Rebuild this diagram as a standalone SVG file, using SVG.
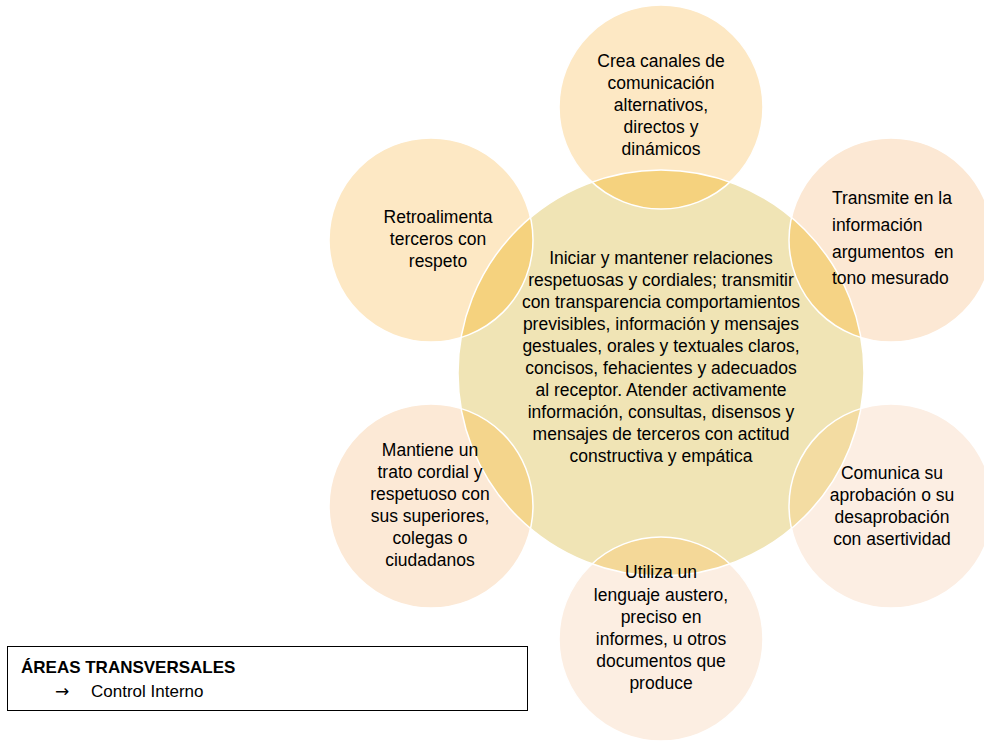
<svg xmlns="http://www.w3.org/2000/svg" width="984" height="742" viewBox="0 0 984 742">
<style>
.t{font-family:"Liberation Sans",Arial,sans-serif;font-size:17.5px;fill:#000;text-anchor:middle}
.l{text-anchor:start}
.o{fill:none;stroke:#fff;stroke-width:1.5}
.lg{font-family:"Liberation Sans",Arial,sans-serif;font-size:17px;fill:#000}
</style>
<defs>
<clipPath id="cc"><circle cx="661" cy="373" r="203"/></clipPath>
</defs>
<rect width="984" height="742" fill="#fff"/>
<g id="center">
<circle cx="661" cy="373" r="203" fill="#F0E4B5"/>
</g>
<g id="n-top"><circle cx="661" cy="107" r="102" fill="#FDE8C4"/><circle cx="661" cy="107" r="102" fill="#F5D27E" clip-path="url(#cc)"/></g>
<g id="n-righttop"><circle cx="891" cy="240" r="102" fill="#FCE8D4"/><circle cx="891" cy="240" r="102" fill="#F5D385" clip-path="url(#cc)"/></g>
<g id="n-rightbottom"><circle cx="891" cy="506" r="102" fill="#FCEEE3"/><circle cx="891" cy="506" r="102" fill="#F3DCA2" clip-path="url(#cc)"/></g>
<g id="n-bottom"><circle cx="661" cy="639" r="102" fill="#FCEEE2"/><circle cx="661" cy="639" r="102" fill="#F4D898" clip-path="url(#cc)"/></g>
<g id="n-leftbottom"><circle cx="431" cy="506" r="102" fill="#FCE9D6"/><circle cx="431" cy="506" r="102" fill="#F4D58C" clip-path="url(#cc)"/></g>
<g id="n-lefttop"><circle cx="431" cy="240" r="102" fill="#FDE8C4"/><circle cx="431" cy="240" r="102" fill="#F5D27E" clip-path="url(#cc)"/></g>
<g id="outlines">
<circle class="o" cx="661" cy="373" r="203"/>
<circle class="o" cx="661" cy="107" r="102"/>
<circle class="o" cx="891" cy="240" r="102"/>
<circle class="o" cx="891" cy="506" r="102"/>
<circle class="o" cx="661" cy="639" r="102"/>
<circle class="o" cx="431" cy="506" r="102"/>
<circle class="o" cx="431" cy="240" r="102"/>
</g>
<g id="texts">
<text class="t" x="661" y="264">Iniciar y mantener relaciones</text>
<text class="t" x="661" y="286">respetuosas y cordiales; transmitir</text>
<text class="t" x="661" y="308">con transparencia comportamientos</text>
<text class="t" x="661" y="330">previsibles, información y mensajes</text>
<text class="t" x="661" y="352">gestuales, orales y textuales claros,</text>
<text class="t" x="661" y="374">concisos, fehacientes y adecuados</text>
<text class="t" x="661" y="396">al receptor. Atender activamente</text>
<text class="t" x="661" y="418">información, consultas, disensos y</text>
<text class="t" x="661" y="440">mensajes de terceros con actitud</text>
<text class="t" x="661" y="462">constructiva y empática</text>

<text class="t" x="661" y="67">Crea canales de</text>
<text class="t" x="661" y="89">comunicación</text>
<text class="t" x="661" y="111">alternativos,</text>
<text class="t" x="661" y="133">directos y</text>
<text class="t" x="661" y="155">dinámicos</text>

<text class="t l" x="832" y="204">Transmite en la</text>
<text class="t l" x="832" y="231">información</text>
<text class="t l" x="832" y="258" xml:space="preserve">argumentos  en</text>
<text class="t l" x="832" y="284">tono mesurado</text>

<text class="t" x="892" y="479">Comunica su</text>
<text class="t" x="892" y="501">aprobación o su</text>
<text class="t" x="892" y="523">desaprobación</text>
<text class="t" x="892" y="545">con asertividad</text>

<text class="t" x="661" y="578">Utiliza un</text>
<text class="t" x="661" y="601">lenguaje austero,</text>
<text class="t" x="661" y="623">preciso en</text>
<text class="t" x="661" y="645">informes, u otros</text>
<text class="t" x="661" y="667">documentos que</text>
<text class="t" x="661" y="689">produce</text>

<text class="t" x="430" y="456">Mantiene un</text>
<text class="t" x="430" y="478">trato cordial y</text>
<text class="t" x="430" y="500">respetuoso con</text>
<text class="t" x="430" y="522">sus superiores,</text>
<text class="t" x="430" y="544">colegas o</text>
<text class="t" x="430" y="566">ciudadanos</text>

<text class="t" x="438" y="223">Retroalimenta</text>
<text class="t" x="438" y="245">terceros con</text>
<text class="t" x="438" y="267">respeto</text>
</g>
<g id="legend">
<rect x="7.5" y="646.5" width="520" height="64" fill="#fff" stroke="#000" stroke-width="1"/>
<text class="lg" x="21" y="673" font-weight="bold" font-size="17.5">ÁREAS TRANSVERSALES</text>
<text x="55" y="697" font-family="'DejaVu Sans',sans-serif" font-size="17" fill="#000">→</text>
<text class="lg" x="91" y="697">Control Interno</text>
</g>
</svg>
